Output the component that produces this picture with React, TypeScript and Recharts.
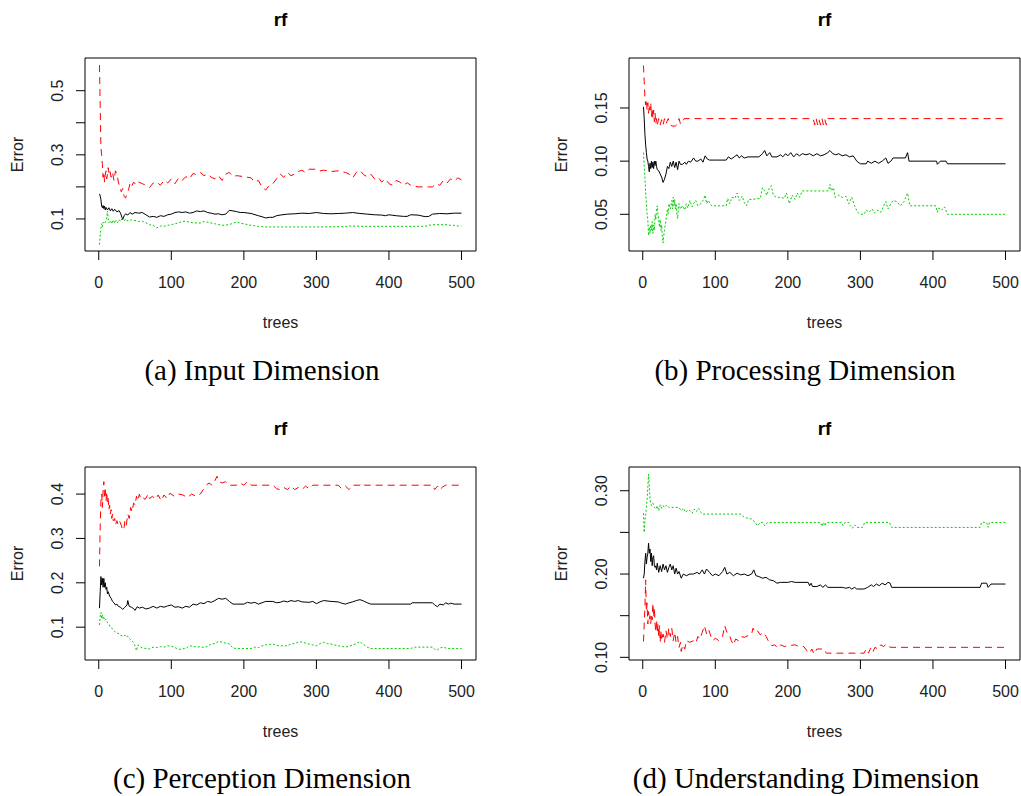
import React from 'react';
import { LineChart, Line, XAxis, YAxis, ReferenceArea } from 'recharts';

type Pt = [number, number];

const TREE_TICKS = [0, 100, 200, 300, 400, 500];
const X_DOMAIN: [number, number] = [-18.96, 519.96];

// (a) Input Dimension: [trees, error]
const inputOob: Pt[] = [[1,0.178],[2,0.172],[3,0.16],[4,0.14],[5,0.135],[6,0.142],[7,0.132],[8,0.14],[9,0.128],[10,0.136],[12,0.128],[14,0.135],[16,0.125],[18,0.132],[20,0.124],[22,0.13],[25,0.122],[28,0.126],[30,0.118],[32,0.105],[33,0.098],[35,0.11],[37,0.116],[40,0.112],[43,0.12],[46,0.115],[50,0.12],[55,0.118],[60,0.12],[65,0.113],[70,0.106],[75,0.108],[80,0.105],[85,0.11],[90,0.108],[95,0.113],[100,0.115],[105,0.12],[110,0.122],[115,0.12],[120,0.122],[125,0.118],[130,0.12],[135,0.125],[140,0.123],[145,0.125],[150,0.12],[155,0.118],[160,0.115],[165,0.116],[170,0.113],[175,0.115],[180,0.127],[185,0.125],[190,0.123],[195,0.12],[200,0.12],[210,0.117],[220,0.11],[225,0.107],[230,0.103],[235,0.105],[240,0.105],[245,0.11],[250,0.112],[260,0.115],[270,0.116],[280,0.118],[290,0.117],[300,0.12],[310,0.117],[320,0.116],[330,0.117],[340,0.118],[350,0.12],[360,0.117],[370,0.115],[380,0.113],[390,0.112],[395,0.11],[400,0.113],[410,0.11],[420,0.108],[425,0.108],[430,0.113],[440,0.112],[450,0.107],[455,0.108],[460,0.115],[470,0.117],[480,0.116],[490,0.118],[500,0.118]];
const inputClass1: Pt[] = [[1,0.58],[2,0.45],[3,0.32],[4,0.3],[5,0.27],[6,0.23],[7,0.245],[8,0.215],[9,0.24],[10,0.25],[11,0.225],[12,0.24],[13,0.26],[14,0.245],[15,0.255],[17,0.23],[19,0.245],[21,0.22],[23,0.25],[25,0.24],[27,0.215],[29,0.2],[31,0.185],[33,0.195],[35,0.17],[37,0.165],[39,0.18],[41,0.19],[43,0.21],[45,0.2],[48,0.215],[52,0.205],[55,0.215],[60,0.21],[65,0.205],[70,0.198],[75,0.212],[80,0.215],[85,0.205],[90,0.22],[95,0.212],[100,0.225],[105,0.21],[110,0.228],[115,0.22],[120,0.232],[125,0.225],[130,0.242],[135,0.238],[140,0.245],[145,0.235],[150,0.24],[155,0.23],[160,0.225],[165,0.235],[170,0.22],[175,0.24],[180,0.245],[185,0.232],[190,0.235],[200,0.232],[210,0.228],[215,0.215],[220,0.22],[225,0.2],[230,0.19],[235,0.205],[240,0.21],[245,0.225],[250,0.24],[255,0.23],[260,0.245],[265,0.235],[270,0.24],[275,0.248],[280,0.252],[285,0.245],[290,0.255],[300,0.255],[305,0.25],[310,0.252],[320,0.248],[330,0.25],[340,0.245],[345,0.24],[350,0.228],[355,0.245],[360,0.252],[365,0.238],[370,0.232],[375,0.24],[380,0.225],[385,0.23],[390,0.215],[395,0.225],[400,0.21],[405,0.205],[410,0.22],[415,0.215],[420,0.205],[425,0.213],[430,0.205],[440,0.2],[450,0.2],[460,0.2],[465,0.21],[470,0.205],[475,0.22],[480,0.212],[485,0.225],[490,0.218],[495,0.228],[500,0.222]];
const inputClass2: Pt[] = [[1,0.02],[2,0.05],[3,0.07],[4,0.085],[5,0.075],[6,0.09],[8,0.085],[10,0.095],[11,0.105],[12,0.125],[13,0.1],[14,0.088],[16,0.095],[18,0.085],[20,0.097],[22,0.087],[24,0.096],[26,0.088],[28,0.098],[30,0.092],[32,0.1],[35,0.095],[38,0.1],[40,0.093],[45,0.097],[50,0.095],[55,0.092],[60,0.093],[65,0.088],[70,0.082],[75,0.08],[80,0.072],[85,0.078],[90,0.077],[95,0.08],[100,0.082],[110,0.088],[115,0.092],[120,0.093],[125,0.09],[130,0.088],[140,0.087],[145,0.092],[150,0.09],[160,0.085],[170,0.08],[180,0.082],[185,0.087],[190,0.09],[195,0.087],[200,0.085],[210,0.08],[220,0.077],[230,0.075],[240,0.075],[300,0.075],[340,0.076],[345,0.078],[350,0.078],[360,0.077],[440,0.077],[450,0.077],[455,0.08],[460,0.082],[480,0.082],[485,0.08],[490,0.08],[495,0.078],[500,0.078]];

// (b) Processing Dimension
const procOob: Pt[] = [[1,0.151],[2,0.14],[3,0.125],[4,0.115],[5,0.108],[6,0.102],[7,0.1],[8,0.095],[9,0.09],[10,0.098],[11,0.093],[12,0.1],[13,0.094],[14,0.099],[15,0.093],[16,0.1],[17,0.096],[18,0.1],[19,0.095],[20,0.092],[22,0.091],[24,0.088],[26,0.085],[28,0.08],[30,0.083],[32,0.088],[34,0.095],[36,0.093],[38,0.099],[40,0.095],[42,0.1],[44,0.094],[46,0.099],[48,0.092],[50,0.1],[52,0.097],[55,0.097],[58,0.099],[60,0.097],[63,0.1],[66,0.099],[70,0.103],[73,0.1],[76,0.1],[80,0.102],[83,0.099],[86,0.105],[89,0.102],[92,0.101],[100,0.101],[115,0.101],[118,0.104],[122,0.102],[126,0.104],[130,0.106],[133,0.103],[136,0.105],[140,0.103],[145,0.104],[160,0.104],[165,0.107],[168,0.11],[171,0.105],[175,0.108],[178,0.104],[185,0.104],[190,0.106],[193,0.104],[197,0.107],[200,0.105],[204,0.108],[208,0.104],[212,0.107],[216,0.105],[220,0.107],[225,0.106],[230,0.107],[235,0.105],[240,0.107],[245,0.105],[250,0.106],[255,0.108],[258,0.11],[262,0.107],[266,0.106],[270,0.107],[275,0.105],[280,0.106],[285,0.104],[290,0.105],[295,0.1],[300,0.0975],[308,0.0975],[310,0.1],[315,0.098],[320,0.1],[325,0.098],[330,0.1],[335,0.103],[338,0.098],[342,0.1],[345,0.103],[362,0.103],[365,0.108],[367,0.1],[405,0.1],[406,0.097],[410,0.1],[418,0.1],[420,0.0975],[500,0.0975]];
const procClass1: Pt[] = [[1,0.19],[2,0.175],[3,0.16],[4,0.153],[5,0.158],[6,0.148],[7,0.155],[8,0.145],[9,0.153],[10,0.148],[11,0.155],[12,0.142],[13,0.15],[14,0.14],[15,0.148],[16,0.137],[17,0.145],[18,0.135],[19,0.14],[20,0.134],[22,0.14],[24,0.134],[26,0.139],[28,0.134],[30,0.14],[32,0.135],[35,0.14],[38,0.135],[40,0.133],[45,0.133],[48,0.135],[50,0.14],[52,0.135],[55,0.137],[57,0.14],[235,0.14],[237,0.134],[239,0.14],[241,0.134],[243,0.139],[245,0.134],[247,0.14],[249,0.134],[251,0.139],[253,0.134],[255,0.14],[500,0.14]];
const procClass2: Pt[] = [[1,0.108],[2,0.095],[3,0.085],[4,0.07],[5,0.06],[6,0.05],[7,0.045],[8,0.03],[9,0.038],[10,0.032],[11,0.04],[12,0.035],[13,0.043],[14,0.032],[15,0.04],[16,0.035],[17,0.05],[18,0.045],[19,0.055],[20,0.058],[21,0.05],[22,0.045],[23,0.038],[24,0.045],[25,0.035],[26,0.04],[27,0.028],[28,0.023],[29,0.03],[30,0.035],[32,0.045],[34,0.055],[35,0.05],[36,0.06],[38,0.055],[40,0.063],[41,0.055],[42,0.066],[43,0.058],[44,0.064],[45,0.055],[46,0.06],[47,0.05],[48,0.046],[49,0.055],[50,0.06],[52,0.055],[55,0.058],[58,0.054],[60,0.06],[62,0.056],[65,0.063],[68,0.057],[70,0.06],[73,0.063],[76,0.058],[80,0.06],[83,0.063],[86,0.068],[88,0.06],[90,0.063],[95,0.058],[115,0.058],[117,0.065],[120,0.06],[123,0.066],[127,0.065],[130,0.07],[133,0.063],[137,0.067],[140,0.061],[143,0.058],[146,0.064],[150,0.064],[162,0.065],[165,0.075],[168,0.072],[171,0.068],[174,0.074],[177,0.077],[180,0.068],[184,0.066],[190,0.066],[195,0.065],[198,0.07],[202,0.06],[206,0.068],[210,0.064],[213,0.07],[216,0.066],[220,0.072],[256,0.072],[258,0.078],[260,0.072],[263,0.075],[265,0.066],[270,0.068],[275,0.066],[280,0.067],[284,0.06],[288,0.066],[292,0.058],[296,0.052],[300,0.05],[305,0.05],[308,0.054],[312,0.052],[316,0.055],[320,0.051],[324,0.054],[328,0.052],[332,0.058],[335,0.062],[338,0.055],[342,0.06],[345,0.063],[350,0.062],[355,0.058],[360,0.062],[365,0.07],[368,0.058],[404,0.058],[406,0.052],[408,0.056],[412,0.054],[416,0.057],[420,0.05],[500,0.05]];

// (c) Perception Dimension
const percOob: Pt[] = [[1,0.143],[2,0.18],[3,0.214],[4,0.195],[5,0.21],[6,0.19],[7,0.21],[8,0.19],[9,0.2],[10,0.185],[11,0.19],[12,0.175],[13,0.18],[15,0.17],[17,0.165],[19,0.158],[21,0.155],[23,0.15],[25,0.152],[27,0.147],[30,0.145],[33,0.14],[36,0.145],[39,0.15],[40,0.16],[42,0.147],[45,0.145],[48,0.142],[50,0.138],[53,0.146],[56,0.143],[60,0.145],[65,0.141],[70,0.143],[75,0.147],[80,0.143],[85,0.147],[90,0.145],[95,0.148],[100,0.15],[105,0.145],[110,0.146],[115,0.143],[120,0.147],[125,0.145],[130,0.152],[135,0.15],[140,0.155],[145,0.153],[150,0.158],[155,0.156],[160,0.16],[165,0.165],[170,0.163],[175,0.165],[180,0.158],[185,0.152],[190,0.152],[200,0.152],[205,0.156],[210,0.154],[215,0.156],[220,0.152],[225,0.155],[230,0.158],[240,0.158],[245,0.155],[250,0.156],[255,0.159],[260,0.157],[265,0.16],[270,0.158],[275,0.16],[280,0.157],[290,0.156],[295,0.158],[300,0.153],[305,0.157],[310,0.16],[320,0.158],[330,0.157],[335,0.154],[340,0.152],[345,0.155],[350,0.157],[355,0.16],[360,0.162],[365,0.159],[370,0.155],[375,0.152],[430,0.152],[432,0.155],[460,0.155],[463,0.15],[467,0.146],[470,0.152],[475,0.15],[478,0.155],[482,0.152],[485,0.154],[490,0.152],[500,0.152]];
const percClass1: Pt[] = [[1,0.237],[2,0.33],[3,0.385],[4,0.4],[5,0.37],[6,0.41],[7,0.428],[8,0.395],[9,0.41],[10,0.385],[11,0.405],[12,0.38],[13,0.39],[14,0.365],[15,0.375],[16,0.355],[17,0.365],[18,0.345],[19,0.355],[20,0.34],[22,0.345],[23,0.33],[25,0.34],[27,0.33],[29,0.338],[31,0.33],[33,0.318],[35,0.325],[36,0.34],[38,0.33],[40,0.355],[42,0.345],[44,0.37],[46,0.36],[48,0.38],[50,0.375],[52,0.395],[54,0.385],[56,0.4],[58,0.39],[60,0.393],[64,0.388],[68,0.4],[70,0.39],[74,0.395],[78,0.388],[82,0.398],[86,0.385],[90,0.398],[94,0.39],[98,0.402],[104,0.395],[110,0.4],[116,0.398],[122,0.392],[128,0.4],[134,0.395],[140,0.4],[144,0.41],[148,0.42],[152,0.425],[156,0.42],[160,0.43],[163,0.44],[166,0.428],[170,0.425],[175,0.428],[180,0.42],[190,0.42],[195,0.425],[200,0.42],[205,0.428],[210,0.42],[240,0.42],[245,0.412],[250,0.41],[255,0.415],[260,0.41],[265,0.418],[270,0.41],[275,0.415],[280,0.41],[285,0.418],[290,0.412],[295,0.42],[330,0.42],[335,0.412],[340,0.418],[345,0.41],[350,0.42],[360,0.42],[363,0.425],[366,0.42],[460,0.42],[463,0.41],[467,0.418],[470,0.41],[474,0.416],[478,0.42],[500,0.42]];
const percClass2: Pt[] = [[1,0.105],[2,0.125],[3,0.133],[4,0.12],[5,0.128],[6,0.118],[7,0.122],[8,0.115],[10,0.118],[12,0.11],[14,0.107],[16,0.1],[18,0.098],[20,0.093],[22,0.09],[25,0.087],[28,0.085],[30,0.082],[33,0.08],[36,0.082],[38,0.077],[40,0.08],[42,0.075],[45,0.07],[48,0.065],[50,0.058],[52,0.047],[54,0.06],[57,0.056],[60,0.053],[65,0.052],[70,0.051],[75,0.055],[80,0.054],[85,0.056],[90,0.055],[95,0.058],[100,0.057],[105,0.054],[110,0.05],[115,0.051],[120,0.052],[125,0.058],[130,0.057],[135,0.055],[140,0.056],[145,0.054],[150,0.057],[155,0.062],[160,0.063],[165,0.068],[170,0.066],[175,0.064],[180,0.062],[185,0.053],[190,0.052],[210,0.052],[215,0.055],[220,0.054],[225,0.058],[230,0.06],[235,0.061],[240,0.062],[245,0.059],[250,0.058],[260,0.058],[265,0.062],[270,0.063],[275,0.066],[280,0.067],[285,0.064],[290,0.062],[295,0.06],[300,0.058],[305,0.063],[310,0.066],[315,0.063],[320,0.062],[325,0.06],[330,0.058],[335,0.057],[340,0.055],[345,0.057],[350,0.06],[355,0.063],[360,0.068],[363,0.063],[366,0.06],[370,0.055],[375,0.052],[430,0.052],[435,0.055],[460,0.055],[463,0.05],[466,0.048],[470,0.053],[475,0.055],[480,0.052],[500,0.052]];

// (d) Understanding Dimension
const undOob: Pt[] = [[1,0.195],[2,0.2],[3,0.215],[4,0.225],[5,0.212],[6,0.22],[7,0.225],[8,0.237],[9,0.225],[10,0.23],[11,0.215],[12,0.225],[13,0.21],[14,0.22],[15,0.222],[16,0.21],[17,0.208],[18,0.21],[19,0.205],[20,0.213],[22,0.202],[24,0.21],[26,0.203],[28,0.212],[30,0.205],[32,0.21],[34,0.202],[36,0.208],[38,0.212],[40,0.205],[42,0.21],[44,0.2],[46,0.207],[48,0.2],[50,0.203],[53,0.195],[56,0.2],[60,0.198],[65,0.2],[70,0.2],[75,0.202],[78,0.2],[82,0.205],[85,0.2],[88,0.206],[92,0.202],[96,0.198],[100,0.2],[105,0.198],[110,0.203],[113,0.208],[116,0.2],[120,0.202],[125,0.198],[130,0.201],[135,0.199],[140,0.2],[145,0.198],[150,0.2],[153,0.205],[156,0.198],[160,0.197],[165,0.195],[170,0.196],[175,0.193],[180,0.192],[185,0.189],[190,0.19],[200,0.19],[205,0.191],[210,0.19],[228,0.19],[230,0.186],[232,0.189],[234,0.185],[240,0.185],[245,0.187],[248,0.184],[252,0.187],[255,0.184],[275,0.184],[280,0.183],[285,0.184],[288,0.182],[292,0.184],[295,0.182],[305,0.182],[310,0.184],[315,0.187],[318,0.185],[322,0.188],[326,0.186],[330,0.189],[334,0.187],[338,0.19],[341,0.189],[343,0.184],[465,0.184],[467,0.189],[474,0.189],[476,0.184],[480,0.188],[500,0.188]];
const undClass1: Pt[] = [[1,0.119],[2,0.14],[3,0.16],[4,0.193],[5,0.155],[6,0.165],[7,0.14],[8,0.155],[9,0.145],[10,0.15],[11,0.14],[12,0.152],[13,0.145],[14,0.165],[15,0.148],[16,0.16],[17,0.14],[18,0.13],[19,0.145],[20,0.13],[21,0.14],[22,0.125],[23,0.138],[24,0.118],[25,0.132],[26,0.12],[28,0.128],[30,0.118],[32,0.132],[34,0.122],[36,0.135],[38,0.125],[40,0.135],[42,0.12],[44,0.13],[46,0.118],[48,0.125],[50,0.112],[52,0.118],[53,0.107],[55,0.115],[58,0.11],[60,0.12],[65,0.118],[70,0.12],[73,0.117],[76,0.125],[79,0.122],[82,0.13],[85,0.138],[88,0.128],[91,0.133],[94,0.125],[97,0.12],[100,0.123],[105,0.12],[110,0.125],[113,0.138],[116,0.13],[119,0.128],[122,0.12],[125,0.115],[128,0.122],[132,0.12],[136,0.125],[140,0.124],[145,0.126],[150,0.128],[152,0.135],[155,0.13],[158,0.132],[162,0.127],[166,0.13],[170,0.125],[174,0.118],[178,0.114],[182,0.115],[186,0.111],[190,0.115],[195,0.113],[200,0.114],[210,0.115],[215,0.113],[222,0.113],[226,0.108],[230,0.105],[233,0.11],[236,0.104],[240,0.11],[250,0.11],[253,0.105],[305,0.105],[308,0.11],[311,0.105],[314,0.111],[317,0.106],[320,0.112],[324,0.11],[328,0.115],[332,0.113],[336,0.116],[339,0.113],[342,0.112],[500,0.112]];
const undClass2: Pt[] = [[1,0.273],[2,0.25],[3,0.265],[4,0.27],[5,0.28],[6,0.29],[7,0.305],[8,0.32],[9,0.305],[10,0.29],[11,0.285],[12,0.282],[14,0.285],[16,0.28],[18,0.278],[20,0.282],[22,0.276],[24,0.283],[26,0.279],[28,0.282],[30,0.28],[33,0.283],[36,0.28],[40,0.28],[50,0.28],[53,0.276],[56,0.279],[59,0.274],[62,0.277],[65,0.276],[68,0.273],[71,0.278],[74,0.275],[77,0.279],[80,0.274],[83,0.272],[135,0.272],[140,0.268],[150,0.266],[155,0.262],[158,0.258],[162,0.262],[165,0.262],[168,0.258],[172,0.262],[245,0.262],[247,0.257],[249,0.262],[251,0.258],[253,0.262],[274,0.262],[276,0.258],[279,0.262],[284,0.262],[286,0.258],[289,0.255],[292,0.259],[295,0.256],[303,0.256],[306,0.262],[340,0.262],[343,0.256],[465,0.256],[467,0.262],[474,0.262],[476,0.256],[478,0.262],[500,0.262]];

const FONT = '"Liberation Sans", Arial, sans-serif';
const SERIF = '"Liberation Serif", "Times New Roman", serif';
const TEXT_COLOR = '#222';

const toRows = (pts: Pt[]) => pts.map(([tree, err]) => ({ tree, err }));

interface PanelProps {
  left: number;
  top: number;
  width: number;
  marginLeft: number;
  marginRight: number;
  oob: Pt[];
  class1: Pt[];
  class2: Pt[];
  yDomain: [number, number];
  yTicks: number[];
  yLabelled: number[];
  digits: number;
}

const Y_AXIS_W = 70;
const PLOT_TOP = 58;
const PLOT_BOTTOM = 251;

const Panel = (p: PanelProps) => {
  const plotLeft = p.marginLeft + Y_AXIS_W;

  const YTick = (props: any) => {
    const { y, payload } = props;
    const v = payload.value;
    if (!p.yLabelled.some((l) => Math.abs(l - v) < 1e-9)) return <g />;
    const tx = plotLeft - 22;
    return (
      <text x={tx} y={y} transform={`rotate(-90 ${tx} ${y})`} textAnchor="middle"
        fontFamily={FONT} fontSize={16} fill={TEXT_COLOR}>
        {v.toFixed(p.digits)}
      </text>
    );
  };

  const XTick = (props: any) => {
    const { x, payload } = props;
    return (
      <text x={x} y={PLOT_BOTTOM + 37} textAnchor="middle" fontFamily={FONT} fontSize={16} fill={TEXT_COLOR}>
        {payload.value}
      </text>
    );
  };

  return (
    <div style={{ position: 'absolute', left: p.left, top: p.top }}>
      <LineChart
        width={p.width}
        height={340}
        margin={{ top: PLOT_TOP, right: p.marginRight, bottom: 9, left: p.marginLeft }}
      >
        <XAxis dataKey="tree" type="number" domain={X_DOMAIN} ticks={TREE_TICKS} allowDataOverflow
          height={80} tickSize={9} tickLine={{ stroke: '#000' }} axisLine={false} tick={<XTick />} interval={0} />
        <YAxis type="number" domain={p.yDomain} ticks={p.yTicks} allowDataOverflow width={Y_AXIS_W}
          tickSize={9} tickLine={{ stroke: '#000' }} axisLine={false} tick={<YTick />} interval={0} />
        <ReferenceArea x1={X_DOMAIN[0]} x2={X_DOMAIN[1]} y1={p.yDomain[0]} y2={p.yDomain[1]}
          fill="none" fillOpacity={0} stroke="#000" strokeWidth={1} ifOverflow="visible" />
        <Line data={toRows(p.oob)} dataKey="err" type="linear" stroke="#000" strokeWidth={1}
          dot={false} activeDot={false} isAnimationActive={false} />
        <Line data={toRows(p.class1)} dataKey="err" type="linear" stroke="#ff0000" strokeWidth={1}
          strokeDasharray="7 5" dot={false} activeDot={false} isAnimationActive={false} />
        <Line data={toRows(p.class2)} dataKey="err" type="linear" stroke="#00cd00" strokeWidth={1}
          strokeDasharray="2 2" dot={false} activeDot={false} isAnimationActive={false} />
      </LineChart>
    </div>
  );
};

const LEFT_COL = { left: 0, width: 510, marginLeft: 15, marginRight: 34 };
const RIGHT_COL = { left: 510, width: 511, marginLeft: 49, marginRight: 1 };
const ROW_TOP = [0, 409];

const CAPTIONS = [
  { text: '(a) Input Dimension', x: 262, y: 380 },
  { text: '(b) Processing Dimension', x: 805, y: 380 },
  { text: '(c) Perception Dimension', x: 262, y: 788 },
  { text: '(d) Understanding Dimension', x: 806, y: 788 },
];

export default function App() {
  const centers = [280.5, 824.5];
  const boxLefts = [85, 629];
  return (
    <div style={{ position: 'absolute', left: 0, top: 0, width: 1021, height: 796, background: '#fff', overflow: 'hidden' }}>
      <Panel {...LEFT_COL} top={ROW_TOP[0]} oob={inputOob} class1={inputClass1} class2={inputClass2}
        yDomain={[0, 0.602]} yTicks={[0.1, 0.2, 0.3, 0.4, 0.5]} yLabelled={[0.1, 0.3, 0.5]} digits={1} />
      <Panel {...RIGHT_COL} top={ROW_TOP[0]} oob={procOob} class1={procClass1} class2={procClass2}
        yDomain={[0.0155, 0.197]} yTicks={[0.05, 0.1, 0.15]} yLabelled={[0.05, 0.1, 0.15]} digits={2} />
      <Panel {...LEFT_COL} top={ROW_TOP[1]} oob={percOob} class1={percClass1} class2={percClass2}
        yDomain={[0.026, 0.461]} yTicks={[0.1, 0.2, 0.3, 0.4]} yLabelled={[0.1, 0.2, 0.3, 0.4]} digits={1} />
      <Panel {...RIGHT_COL} top={ROW_TOP[1]} oob={undOob} class1={undClass1} class2={undClass2}
        yDomain={[0.0968, 0.3285]} yTicks={[0.1, 0.15, 0.2, 0.25, 0.3]} yLabelled={[0.1, 0.2, 0.3]} digits={2} />
      <svg width={1021} height={796} style={{ position: 'absolute', left: 0, top: 0, pointerEvents: 'none' }}>
        {ROW_TOP.map((rt) =>
          [0, 1].map((c) => (
            <g key={`${rt}-${c}`}>
              <text x={centers[c]} y={rt + 26} textAnchor="middle" fontFamily={FONT} fontWeight="bold" fontSize={19} fill="#000">rf</text>
              <text x={centers[c]} y={rt + 328} textAnchor="middle" fontFamily={FONT} fontSize={16} fill={TEXT_COLOR}>trees</text>
              <text x={boxLefts[c] - 62} y={rt + 154.5} transform={`rotate(-90 ${boxLefts[c] - 62} ${rt + 154.5})`}
                textAnchor="middle" fontFamily={FONT} fontSize={16} fill={TEXT_COLOR}>Error</text>
            </g>
          ))
        )}
        {CAPTIONS.map((cap) => (
          <text key={cap.text} x={cap.x} y={cap.y} textAnchor="middle" fontFamily={SERIF} fontSize={29} fill="#000">{cap.text}</text>
        ))}
      </svg>
    </div>
  );
}
